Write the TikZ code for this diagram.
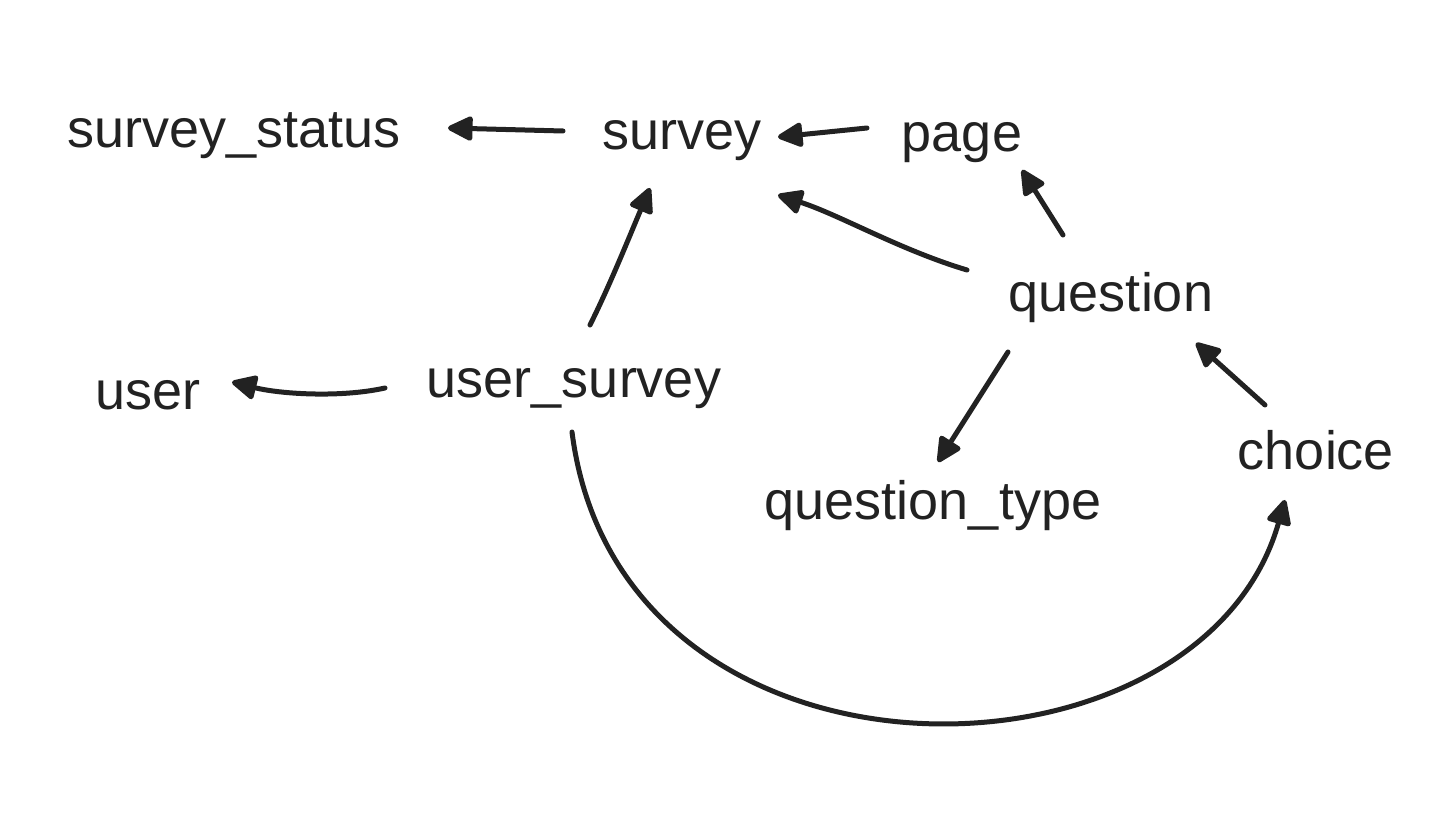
\documentclass[tikz,border=0pt]{standalone}
\usepackage{fontspec}
\setmainfont{Liberation Sans}
\usetikzlibrary{arrows.meta}
\definecolor{ink}{HTML}{222222}
\tikzset{
  lbl/.style={anchor=base, inner sep=0pt, text=ink, font=\fontsize{27}{30}\selectfont},
  arr/.style={draw=ink, line width=2.5pt, line cap=round, line join=round,
              -{Triangle[length=14pt,width=13pt,round]}}
}
\begin{document}
\begin{tikzpicture}[x=0.5pt,y=-0.5pt]
\useasboundingbox[fill=white] (0,0) rectangle (1437,833);
\node[lbl] (status) at (234,148) {survey\_status};
\node[lbl] (survey) at (682,150) {survey};
\node[lbl] (page) at (962,152) {page};
\node[lbl] (question) at (1111,312) {question};
\node[lbl] (user) at (148,410) {user};
\node[lbl] (usersurvey) at (574,398) {user\_survey};
\node[lbl] (qtype) at (933,520) {question\_type};
\node[lbl] (choice) at (1316,470) {choice};

\draw[arr] ([shift={(-119,-19)}]survey.base) -- ([shift={(214,-20)}]status.base);
\draw[arr] ([shift={(-95,-24)}]page.base) -- ([shift={(96,-13)}]survey.base);
\draw[arr] ([shift={(-48,-77)}]question.base) -- ([shift={(60,18)}]page.base);
\draw[arr] ([shift={(-144,-42)}]question.base) .. controls (900,250) and (840,215) .. ([shift={(96,45)}]survey.base);
\draw[arr] ([shift={(16,-73)}]usersurvey.base) .. controls (610,285) and (630,235) .. ([shift={(-32,38)}]survey.base);
\draw[arr] ([shift={(-189,-10)}]usersurvey.base) .. controls (340,398) and (280,394) .. ([shift={(84,-28)}]user.base);
\draw[arr] ([shift={(-103,40)}]question.base) -- ([shift={(5,-58)}]qtype.base);
\draw[arr] ([shift={(-51,-65)}]choice.base) -- ([shift={(85,31)}]question.base);
\draw[arr] ([shift={(-2,34)}]usersurvey.base) .. controls (620,810) and (1200,800) .. ([shift={(-31,30)}]choice.base);
\end{tikzpicture}
\end{document}
